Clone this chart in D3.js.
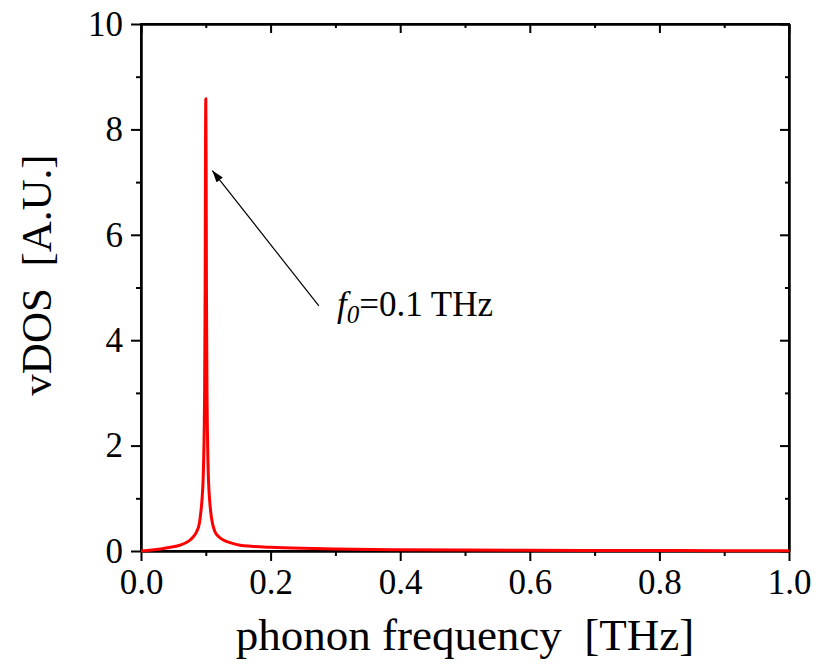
<!DOCTYPE html>
<html>
<head>
<meta charset="utf-8">
<script src="https://cdn.jsdelivr.net/npm/d3@7"></script>
<style>
	body { margin: 0; background: #fff; }
	svg text { font-family: "Liberation Serif", "Times New Roman", serif; white-space: pre; }
	.axis path, .axis line { stroke: #000; stroke-width: 2; }
	.axis text { font-size: 35px; fill: #000; }
</style>
</head>
<body>
<svg width="816" height="664"></svg>
<script>
// frequency [THz] and vDOS [A.U.]
var freq = [0, 0.01, 0.02, 0.03, 0.04, 0.05, 0.06, 0.07, 0.076, 0.08, 0.086, 0.09, 0.092, 0.094, 0.096, 0.097, 0.098, 0.099, 0.0995, 0.1,
	0.1005, 0.101, 0.102, 0.103, 0.104, 0.106, 0.108, 0.11, 0.114, 0.12, 0.127, 0.14, 0.153, 0.17, 0.2, 0.25, 0.3, 0.4, 0.5, 0.6, 0.7, 0.8, 0.9, 1.0];
var vdos = [0, 0.01, 0.025, 0.04, 0.06, 0.08, 0.11, 0.16, 0.21, 0.26, 0.37, 0.52, 0.7, 0.95, 1.4, 1.9, 2.8, 5.0, 7.5, 8.58,
	7.5, 5.0, 2.8, 1.9, 1.4, 0.95, 0.7, 0.54, 0.37, 0.27, 0.21, 0.15, 0.11, 0.09, 0.07, 0.05, 0.038, 0.025, 0.018, 0.014, 0.011, 0.008, 0.006, 0.005];

var xMajor = [0, 0.2, 0.4, 0.6, 0.8, 1.0];
var xMinor = [0.1, 0.3, 0.5, 0.7, 0.9];
var yMajor = [0, 2, 4, 6, 8, 10];
var yMinor = [1, 3, 5, 7, 9];

var xTitle = "phonon frequency  [THz]";
var yTitle = "vDOS  [A.U.]";
var peakFreq = 0.1, peakArrowTip = [0.110, 7.22], peakArrowTail = [0.2745, 4.65];

var svg = d3.select("svg");
var mLeft = 141, mRight = 789, mTop = 24, mBottom = 551;

var x = d3.scaleLinear().domain([0, 1]).range([mLeft, mRight]);
var y = d3.scaleLinear().domain([0, 10]).range([mBottom, mTop]);

var fmtX = d3.format(".1f");

function axisG(tx, ty) {
	return svg.append("g").attr("class", "axis")
		.attr("transform", "translate(" + tx + "," + ty + ")");
}

// minor ticks first (no labels)
axisG(0, mBottom).call(d3.axisBottom(x).tickValues(xMinor).tickSize(5).tickFormat("").tickSizeOuter(0));
axisG(0, mTop).call(d3.axisBottom(x).tickValues(xMinor).tickSize(4).tickFormat("").tickSizeOuter(0));
axisG(mLeft, 0).call(d3.axisLeft(y).tickValues(yMinor).tickSize(5).tickFormat("").tickSizeOuter(0));
axisG(mRight, 0).call(d3.axisLeft(y).tickValues(yMinor).tickSize(4).tickFormat("").tickSizeOuter(0));

// major ticks
axisG(0, mTop).call(d3.axisBottom(x).tickValues(xMajor).tickSize(9).tickFormat("").tickSizeOuter(0));
axisG(mRight, 0).call(d3.axisLeft(y).tickValues(yMajor).tickSize(9).tickFormat("").tickSizeOuter(0));
axisG(0, mBottom).call(d3.axisBottom(x).tickValues(xMajor).tickSize(10).tickPadding(8).tickFormat(fmtX).tickSizeOuter(0));
axisG(mLeft, 0).call(d3.axisLeft(y).tickValues(yMajor).tickSize(10).tickPadding(8).tickFormat(d3.format("d")).tickSizeOuter(0));

svg.selectAll(".axis").attr("font-family", null).attr("font-size", null);

// frame
svg.append("rect")
	.attr("x", mLeft).attr("y", mTop).attr("width", mRight - mLeft).attr("height", mBottom - mTop)
	.attr("fill", "none").attr("stroke", "#000").attr("stroke-width", 2);

// curve
var line = d3.line()
	.x(function(d) { return x(d[0]); })
	.y(function(d) { return y(d[1]); })
	.curve(d3.curveMonotoneX);

svg.append("path")
	.datum(d3.zip(freq, vdos))
	.attr("d", line)
	.attr("fill", "none")
	.attr("stroke", "#ff0000")
	.attr("stroke-width", 3)
	.attr("stroke-linejoin", "round");

// annotation arrow
svg.append("defs").append("marker")
	.attr("id", "head").attr("viewBox", "0 0 12 8").attr("refX", 12).attr("refY", 4)
	.attr("markerWidth", 12).attr("markerHeight", 8).attr("markerUnits", "userSpaceOnUse")
	.attr("orient", "auto")
	.append("path").attr("d", "M0,0L12,4L0,8Z").attr("fill", "#000");

svg.append("line")
	.attr("x1", x(peakArrowTail[0])).attr("y1", y(peakArrowTail[1]))
	.attr("x2", x(peakArrowTip[0])).attr("y2", y(peakArrowTip[1]))
	.attr("stroke", "#000").attr("stroke-width", 1.2)
	.attr("marker-end", "url(#head)");

var label = svg.append("text")
	.attr("x", 337).attr("y", 316)
	.attr("font-size", 35);
label.append("tspan").attr("font-style", "italic").text("f");
label.append("tspan").attr("font-style", "italic").attr("font-size", 25).attr("dy", 7).text("0");
label.append("tspan").attr("dy", -7).text("=" + peakFreq + " THz");

// axis titles
svg.append("text")
	.attr("x", (mLeft + mRight) / 2).attr("y", 650)
	.attr("text-anchor", "middle").attr("font-size", 45)
	.text(xTitle);

svg.append("text")
	.attr("transform", "translate(51,275) rotate(-90)")
	.attr("text-anchor", "middle").attr("font-size", 43)
	.text(yTitle);
</script>
</body>
</html>
